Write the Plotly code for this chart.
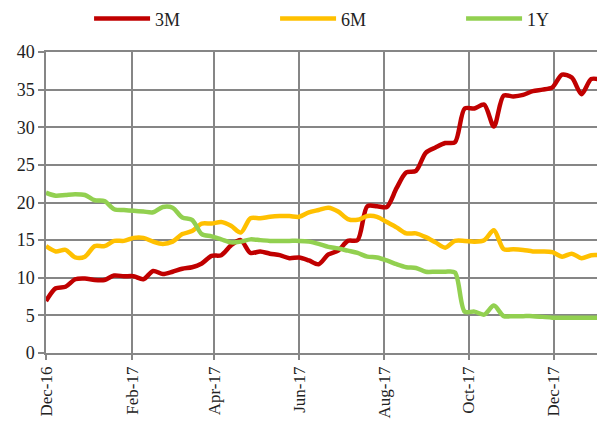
import pandas as pd
import plotly.graph_objects as go

dates = pd.date_range("2016-12-02", periods=58, freq="7D")

m3 = [6.9, 8.6, 8.8, 9.8, 9.9, 9.7, 9.7, 10.3, 10.2, 10.2,
      9.8, 10.9, 10.5, 10.8, 11.2, 11.4, 11.9, 12.9, 13.0, 14.3,
      15.0, 13.3, 13.5, 13.2, 13.0, 12.6, 12.7, 12.3, 11.8, 13.1,
      13.6, 14.9, 15.0, 19.5, 19.5, 19.4, 21.9, 24.0, 24.2, 26.6,
      27.3, 27.9, 28.0, 32.5, 32.5, 33.0, 30.1, 34.2, 34.1, 34.3,
      34.8, 35.0, 35.3, 37.0, 36.6, 34.4, 36.4, 36.3]

m6 = [14.2, 13.5, 13.7, 12.7, 12.8, 14.2, 14.2, 14.9, 14.9, 15.3,
      15.3, 14.8, 14.5, 14.8, 15.8, 16.2, 17.2, 17.2, 17.4, 16.9,
      16.0, 17.9, 17.9, 18.1, 18.2, 18.2, 18.1, 18.7, 19.0, 19.3,
      18.8, 17.8, 17.7, 18.2, 18.1, 17.4, 16.7, 15.9, 15.9, 15.4,
      14.7, 14.0, 14.9, 14.9, 14.8, 15.0, 16.3, 13.8, 13.8, 13.7,
      13.5, 13.5, 13.4, 12.8, 13.2, 12.6, 13.0, 13.0]

y1 = [21.3, 20.9, 21.0, 21.1, 21.0, 20.3, 20.2, 19.1, 19.0, 18.9,
      18.8, 18.7, 19.4, 19.3, 18.0, 17.7, 15.8, 15.5, 15.1, 14.7,
      14.8, 15.1, 15.0, 14.9, 14.9, 14.9, 14.9, 14.8, 14.5, 14.1,
      13.9, 13.6, 13.3, 12.8, 12.7, 12.3, 11.8, 11.4, 11.3, 10.8,
      10.8, 10.8, 10.7, 5.5, 5.5, 5.1, 6.3, 4.9, 4.9, 4.9,
      4.9, 4.8, 4.7, 4.7, 4.7, 4.7, 4.7, 4.7]

series_names = ["3M", "6M", "1Y"]
series_values = [m3, m6, y1]
colors = ["#C00000", "#FFC000", "#92D050"]

FONT = "Liberation Serif"
GRID = "#868686"

fig = go.Figure()
for name, vals, col in zip(series_names, series_values, colors):
    fig.add_trace(go.Scatter(
        x=dates, y=vals, name=name, mode="lines",
        line=dict(color=col, width=4.5, shape="spline", smoothing=0.8),
    ))

fig.update_layout(
    width=605, height=425,
    margin=dict(l=38, r=12, t=44, b=80, autoexpand=False),
    plot_bgcolor="white", paper_bgcolor="white",
    font=dict(family=FONT, size=16, color="#222222"),
    legend=dict(orientation="h", x=0.134, xanchor="left", y=1.11, yanchor="middle",
                xref="container", yref="paper", itemwidth=56, entrywidth=115,
                font=dict(family=FONT, size=18), bgcolor="rgba(0,0,0,0)"),
    showlegend=True,
)

fig.update_xaxes(
    range=[dates[0], dates[-1]],
    tick0=dates[0], dtick="M2", tickformat="%b-%y", tickangle=-90,
    showgrid=True, gridcolor=GRID, gridwidth=1.5,
    showline=True, linecolor=GRID, linewidth=1.5, mirror=True,
    ticks="outside", ticklen=5, tickcolor=GRID, tickwidth=1.5,
    tickfont=dict(family=FONT, size=17, color="#222222"),
    zeroline=False, automargin=False,
)
fig.update_yaxes(
    range=[0, 40], dtick=5,
    showgrid=True, gridcolor=GRID, gridwidth=1.5,
    showline=True, linecolor=GRID, linewidth=1.5, mirror=True,
    ticks="outside", ticklen=6, tickcolor=GRID, tickwidth=1.5,
    tickfont=dict(family=FONT, size=18, color="#222222"),
    zeroline=False, automargin=False,
)

fig.write_html("out.html")
